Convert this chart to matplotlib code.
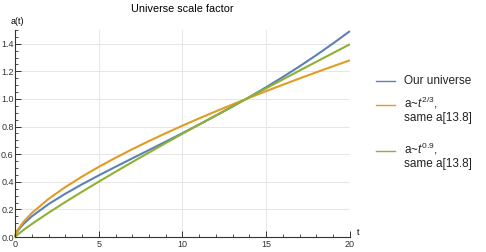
import matplotlib
matplotlib.use("Agg")
import matplotlib.pyplot as plt
from matplotlib.lines import Line2D
from matplotlib.ticker import MultipleLocator, FormatStrFormatter

t = [0, 0.01, 0.05, 0.1, 0.2, 0.5, 1, 2, 3, 4, 5, 6, 7, 8, 9, 10, 11, 12, 13, 14, 15, 16, 17, 18, 19, 20]
a_ours = [0, 0.0069, 0.0203, 0.0322, 0.0512, 0.0942, 0.1497, 0.2382, 0.3134, 0.3819, 0.4465, 0.5087,
          0.5697, 0.6303, 0.6912, 0.7527, 0.8154, 0.8798, 0.9459, 1.0145, 1.0857, 1.1598,
          1.2372, 1.3182, 1.4032, 1.492]
a_23 = [0, 0.0081, 0.0236, 0.0375, 0.0594, 0.1095, 0.1738, 0.2759, 0.3615, 0.4380, 0.5083, 0.5739,
        0.6361, 0.6953, 0.7521, 0.8068, 0.8597, 0.9110, 0.9610, 1.0096, 1.0572, 1.1036,
        1.1492, 1.1938, 1.2376, 1.2807]
a_09 = [0, 0.0015, 0.0064, 0.0119, 0.0221, 0.0505, 0.0942, 0.1758, 0.2532, 0.3281, 0.4010, 0.4726,
        0.5429, 0.6122, 0.6807, 0.7483, 0.8154, 0.8818, 0.9477, 1.0130, 1.0779, 1.1424,
        1.2065, 1.2702, 1.3335, 1.3965]
labels = [["Our universe"],
          ["a~$t^{2/3}$,", "same a[13.8]"],
          ["a~$t^{0.9}$,", "same a[13.8]"]]
colors = ["#5E81B5", "#E19C24", "#8FB032"]

plt.rcParams['font.family'] = ['Liberation Sans', 'DejaVu Sans']
plt.rcParams['mathtext.fontset'] = 'custom'
plt.rcParams['mathtext.it'] = 'Liberation Sans:italic'
plt.rcParams['mathtext.rm'] = 'Liberation Sans'

W, H = 486, 252
fig = plt.figure(figsize=(W / 100, H / 100), dpi=100)
ax = fig.add_axes([0.031, 0.0595, 0.689, 0.8215])

for y, c in zip([a_ours, a_23, a_09], colors):
    ax.plot(t, y, color=c, lw=1.5, clip_on=False, solid_capstyle='butt')

ax.set_xlim(0, 20)
ax.set_ylim(0, 1.5)
ax.xaxis.set_major_locator(MultipleLocator(5))
ax.xaxis.set_minor_locator(MultipleLocator(1))
ax.yaxis.set_major_locator(MultipleLocator(0.2))
ax.yaxis.set_minor_locator(MultipleLocator(0.05))
ax.yaxis.set_major_formatter(FormatStrFormatter('%.1f'))
ax.xaxis.set_major_formatter(FormatStrFormatter('%d'))

for s in ['top', 'right']:
    ax.spines[s].set_visible(False)
for s in ['left', 'bottom']:
    ax.spines[s].set_color('#333333')
    ax.spines[s].set_linewidth(0.8)

ax.tick_params(which='both', direction='in', colors='#333333', labelsize=6.5, pad=2)
ax.tick_params(which='major', length=4, width=0.7)
ax.tick_params(which='minor', length=2, width=0.6)
ax.tick_params(axis='y', pad=1)
ax.grid(True, which='major', color='#e6e6e6', lw=0.7)
ax.set_axisbelow(True)

fig.text(0.376, 0.965, "Universe scale factor", ha='center', va='center', fontsize=7.8)
fig.text(0.035, 0.915, "a(t)", ha='center', va='center', fontsize=6.5)
fig.text(0.737, 0.078, "t", ha='center', va='center', fontsize=6.5)

# manual legend (pixel positions from the top-left)
handle_y = [80.7, 105, 150.7]
text_base = [[84], [107.5, 121], [153.5, 167]]
for c, hy, lines, bases in zip(colors, handle_y, labels, text_base):
    fig.add_artist(Line2D([376 / W, 395 / W], [1 - hy / H, 1 - hy / H], color=c, lw=1.0))
    for txt, b in zip(lines, bases):
        fig.text(404 / W, 1 - b / H, txt, ha='left', va='baseline', fontsize=8.5, color='#222222')

fig.savefig("out.png", dpi=100)
